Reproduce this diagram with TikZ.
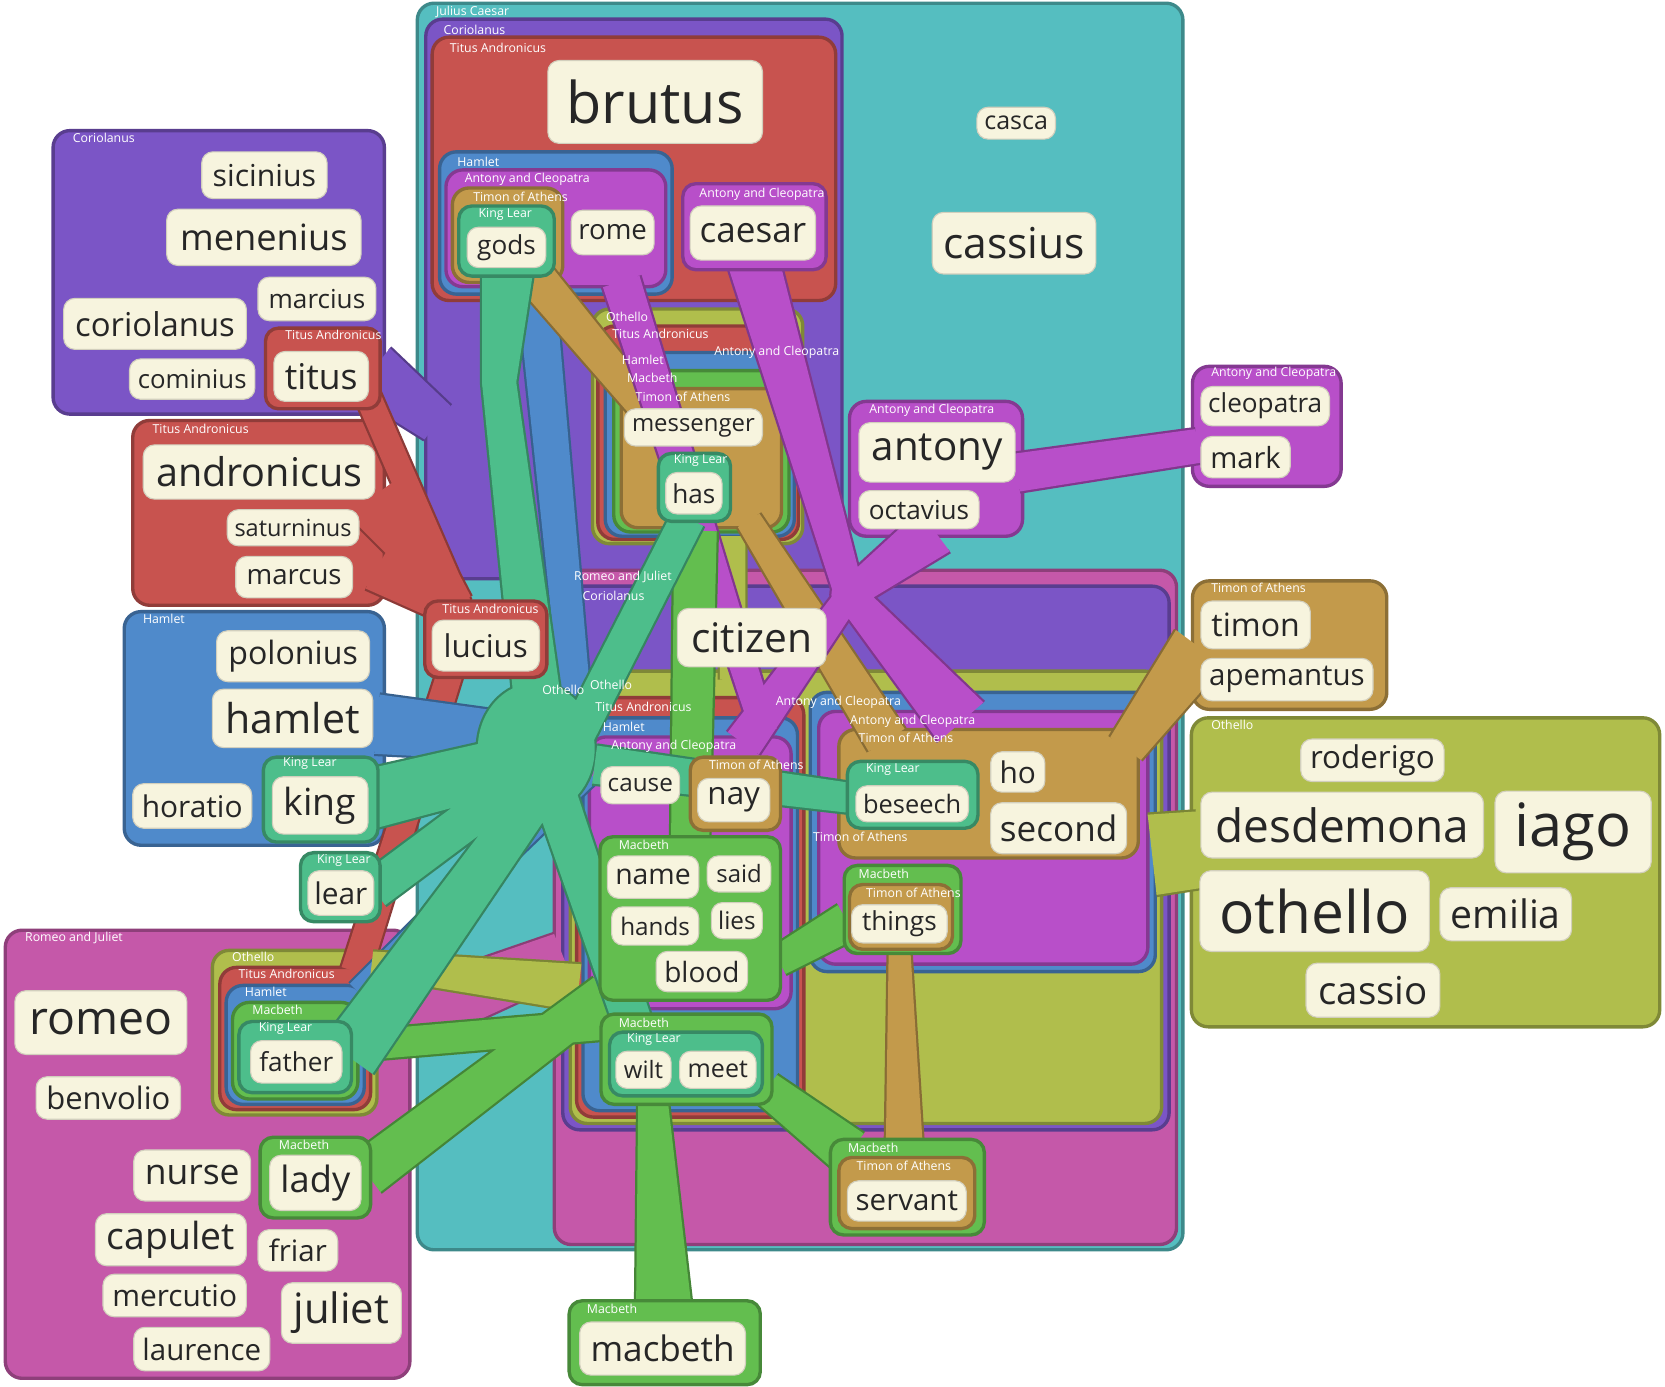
\documentclass[tikz,border=0pt]{standalone}
\usepackage{fontspec}
\setmainfont{Open Sans}
\usetikzlibrary{calc}

\definecolor{jc}{HTML}{55BEC0}
\definecolor{cor}{HTML}{7B55C6}
\definecolor{tit}{HTML}{C8534F}
\definecolor{ham}{HTML}{4F8ACB}
\definecolor{ant}{HTML}{B84FC9}
\definecolor{tim}{HTML}{C39A4B}
\definecolor{lear}{HTML}{4DBE8B}
\definecolor{mac}{HTML}{63BE4F}
\definecolor{oth}{HTML}{B0BE4C}
\definecolor{rj}{HTML}{C558A9}
\definecolor{cream}{HTML}{F7F4DE}
\definecolor{ink}{HTML}{262626}

% tapered band from (A) to (B), half-widths given in 0.1 mm
% full outline (for filling)
\newcommand\rbnF[4]{($(#1)!#2*0.1mm!90:(#3)$) -- ($(#3)!#4*0.1mm!-90:(#1)$) -- ($(#3)!#4*0.1mm!90:(#1)$) -- ($(#1)!#2*0.1mm!-90:(#3)$) -- cycle }
% long sides only (for the dark edge)
\newcommand\rbnS[4]{($(#1)!#2*0.1mm!90:(#3)$) -- ($(#3)!#4*0.1mm!-90:(#1)$) ($(#3)!#4*0.1mm!90:(#1)$) -- ($(#1)!#2*0.1mm!-90:(#3)$) }
\let\rbn\rbnF
% edges first, then fills, so bands of one play merge
\newcommand\ribpass[3]{\let\rbn\rbnS \path[ribline=#1] #2 #3;
  \let\rbn\rbnF \path[ribfill=#1] #2; \path[ribfill=#1] #3;}

\tikzset{
  reg/.style={fill=#1, draw=#1!72!black, line width=0.9pt, rounded corners=4.5pt},
  leaf/.style={fill=#1, draw=#1!72!black, line width=0.9pt, rounded corners=3.5pt},
  wd/.style n args={3}{fill=cream, draw=cream!85!black, line width=0.3pt,
    rounded corners=3pt, text=ink, inner sep=0pt,
    minimum width=#1*0.1mm, minimum height=#2*0.1mm,
    font=\fontsize{#3pt}{#3pt}\selectfont},
  lab/.style={text=white, anchor=west, inner sep=0pt,
    font=\fontsize{3.3pt}{3.3pt}\selectfont},
  ribline/.style={draw=#1!70!black, line width=1.2pt, line join=round},
  ribfill/.style={fill=#1},
}

% bands of each play
\def\rjR{\rbn{380,960}{30}{530,900}{22}}
\def\corR{\rbn{350,350}{28}{412,398}{20}}
\def\titR{\rbn{345,370}{12}{432,570}{12} \rbn{355,465}{34}{432,570}{14}
  \rbn{355,535}{22}{432,578}{14} \rbn{335,915}{14}{425,630}{12}
  \rbn{505,625}{10}{560,680}{14}}
\def\hamR{\rbn{355,682}{28}{545,700}{20} \rbn{505,272}{18}{545,690}{14}
  \rbn{338,935}{12}{552,725}{15}}
\def\othR{\rbn{1085,805}{38}{1130,800}{36} \rbn{350,908}{12}{545,930}{22}
  \rbn{690,505}{12}{690,640}{12}}
\def\timR{\rbn{505,262}{18}{622,402}{14} \rbn{705,490}{12}{835,697}{20}
  \rbn{1130,610}{28}{1060,705}{18} \rbn{847,890}{10}{852,1095}{18}}
\def\antR{\rbn{710,248}{24}{800,560}{14} \rbn{880,500}{24}{800,560}{14}
  \rbn{800,560}{14}{905,680}{28} \rbn{800,560}{12}{700,700}{18}
  \rbn{585,265}{18}{720,690}{12} \rbn{958,445}{18}{1128,420}{16}}
\def\antH{(800,560) circle [radius=0.17cm]}
\def\macR{\rbn{345,1105}{22}{570,935}{18} \rbn{625,1230}{26}{615,1038}{14}
  \rbn{800,1085}{22}{722,1025}{16} \rbn{798,868}{18}{733,905}{14}
  \rbn{655,500}{20}{650,790}{18} \rbn{335,985}{14}{570,965}{14}}
\def\learR{\rbn{478,255}{24}{470,360}{16} \rbn{470,360}{16}{505,650}{22}
  \rbn{648,488}{16}{545,690}{16} \rbn{350,752}{28}{500,715}{25}
  \rbn{352,838}{18}{490,735}{18} \rbn{328,995}{28}{500,755}{20}
  \rbn{805,752}{14}{560,720}{18} \rbn{600,975}{18}{520,740}{20}}
\def\learH{(470,360) circle [radius=0.16cm]
  (505,705) ellipse [x radius=0.55cm, y radius=0.62cm]}

\begin{document}
\begin{tikzpicture}[x=0.01cm, y=-0.01cm]
\fill[white] (0,0) rectangle (1568,1306);
\useasboundingbox (0,0) rectangle (1568,1306);

% ---- containing regions
\draw[reg=jc] (393,3) rectangle (1114,1177);
\draw[reg=cor] (401,18) rectangle (793,545);
\draw[reg=tit] (407,35) rectangle (787,283);
\draw[reg=ham] (414,143) rectangle (633,277);
\draw[reg=ant] (420,160) rectangle (627,270);
\draw[reg=tim] (426,177) rectangle (530,266);
\draw[reg=oth] (558,291) rectangle (756,512);
\draw[reg=tit] (563,307) rectangle (752,508);
\draw[reg=ham] (570,332) rectangle (748,505);
\draw[reg=mac] (578,349) rectangle (743,501);
\draw[reg=tim] (585,366) rectangle (736,497);
\draw[reg=rj] (522,537) rectangle (1108,1172);
\draw[reg=cor] (530,552) rectangle (1101,1064);
\draw[reg=oth] (537,632) rectangle (1094,1058);
\draw[reg=tit] (543,657) rectangle (757,1052);
\draw[reg=ham] (549,676) rectangle (751,1046);
\draw[reg=ant] (555,694) rectangle (745,950);
\draw[reg=ham] (763,652) rectangle (1088,915);
\draw[reg=ant] (771,670) rectangle (1081,908);
\draw[reg=tim] (790,687) rectangle (1072,808);
\draw[reg=cor] (50,123) rectangle (362,390);
\draw[reg=tit] (125,396) rectangle (362,570);
\draw[reg=ham] (117,576) rectangle (362,796);
\draw[reg=rj] (5,876) rectangle (386,1298);
\draw[reg=oth] (200,895) rectangle (355,1050);
\draw[reg=tit] (207,911) rectangle (349,1045);
\draw[reg=ham] (213,928) rectangle (343,1040);
\draw[reg=mac] (219,944) rectangle (337,1035);
\draw[reg=ant] (800,378) rectangle (963,505);
\draw[reg=ant] (1123,345) rectangle (1263,458);
\draw[reg=tim] (1123,547) rectangle (1306,668);
\draw[reg=oth] (1122,676) rectangle (1563,967);

% ---- bands
\ribpass{rj}{\rjR}{}
\ribpass{cor}{\corR}{}
\ribpass{tit}{\titR}{}
\ribpass{ham}{\hamR}{}
\ribpass{oth}{\othR}{}
\ribpass{tim}{\timR}{}
\ribpass{ant}{\antR}{\antH}
\ribpass{mac}{\macR}{}
\ribpass{lear}{\learR}{\learH}

% ---- innermost groups
\draw[leaf=lear] (432,194) rectangle (522,260);
\draw[leaf=ant] (643,173) rectangle (778,254);
\draw[leaf=lear] (620,427) rectangle (688,491);
\draw[leaf=tit] (250,309) rectangle (358,385);
\draw[leaf=lear] (248,713) rectangle (356,793);
\draw[leaf=lear] (283,803) rectangle (358,868);
\draw[leaf=tit] (400,566) rectangle (515,638);
\draw[leaf=lear] (225,962) rectangle (331,1029);
\draw[leaf=mac] (245,1071) rectangle (349,1147);
\draw[leaf=mac] (536,1225) rectangle (716,1304);
\draw[leaf=mac] (565,788) rectangle (735,942);
\draw[leaf=mac] (566,955) rectangle (727,1040);
\draw[leaf=lear] (574,972) rectangle (718,1032);
\draw[leaf=tim] (650,713) rectangle (735,782);
\draw[leaf=lear] (798,717) rectangle (921,780);
\draw[leaf=mac] (795,815) rectangle (905,898);
\draw[leaf=tim] (800,833) rectangle (897,894);
\draw[leaf=mac] (782,1073) rectangle (927,1163);
\draw[leaf=tim] (790,1090) rectangle (918,1157);

% ---- words
\node[wd={202}{78}{15.4}] (brutus) at (617,96) {brutus};
\node[wd={74}{30}{6.7}] (casca) at (957,116) {casca};
\node[wd={154}{58}{11.4}] (cassius) at (955,229) {cassius};
\node[wd={118}{44}{8.1}] (sicinius) at (249,165) {sicinius};
\node[wd={183}{53}{9.7}] (menenius) at (248.5,223.5) {menenius};
\node[wd={111}{41}{7}] (marcius) at (298.5,281.5) {marcius};
\node[wd={172}{48}{8.8}] (coriolanus) at (146,305) {coriolanus};
\node[wd={118}{38}{6.9}] (cominius) at (181,357) {cominius};
\node[wd={89}{47}{9.5}] (titus) at (302.5,354.5) {titus};
\node[wd={218}{51}{10.6}] (andronicus) at (244,444.5) {andronicus};
\node[wd={124}{34}{6.3}] (saturninus) at (276,497) {saturninus};
\node[wd={110}{39}{7.4}] (marcus) at (277,543.5) {marcus};
\node[wd={144}{48}{8.6}] (polonius) at (276,618) {polonius};
\node[wd={151}{55}{11}] (hamlet) at (275.5,676.5) {hamlet};
\node[wd={112}{42}{8}] (horatio) at (181,759) {horatio};
\node[wd={90}{54}{10}] (king) at (301.5,758.5) {king};
\node[wd={62}{42}{8}] (lear) at (321,841) {lear};
\node[wd={101}{48}{8.4}] (lucius) at (457.5,608) {lucius};
\node[wd={74}{38}{7}] (gods) at (477,233) {gods};
\node[wd={78}{42}{7.4}] (rome) at (577,219) {rome};
\node[wd={118}{51}{9.4}] (caesar) at (709,219.5) {caesar};
\node[wd={130}{35}{6.4}] (messenger) at (653,402.5) {messenger};
\node[wd={53}{39}{7}] (has) at (653.5,464.5) {has};
\node[wd={140}{55}{10.9}] (citizen) at (708,600.5) {citizen};
\node[wd={147}{56}{10.8}] (antony) at (882.5,426) {antony};
\node[wd={113}{36}{7}] (octavius) at (865.5,480) {octavius};
\node[wd={121}{37}{7}] (cleopatra) at (1191.5,382.5) {cleopatra};
\node[wd={84}{39}{7.8}] (mark) at (1173,430.5) {mark};
\node[wd={103}{45}{8.6}] (timon) at (1182.5,588.5) {timon};
\node[wd={162}{40}{7.9}] (apemantus) at (1212,640) {apemantus};
\node[wd={135}{40}{8.4}] (roderigo) at (1292.5,716) {roderigo};
\node[wd={266}{62}{12.3}] (desdemona) at (1264,777) {desdemona};
\node[wd={147}{77}{16}] (iago) at (1481.5,783.5) {iago};
\node[wd={216}{76}{15.7}] (othello) at (1238,858) {othello};
\node[wd={124}{50}{10.5}] (emilia) at (1418,861) {emilia};
\node[wd={126}{51}{10.3}] (cassio) at (1293,932.5) {cassio};
\node[wd={51}{38}{8}] (ho) at (958.5,727) {ho};
\node[wd={128}{48}{9.4}] (second) at (997,780) {second};
\node[wd={106}{34}{6.8}] (beseech) at (859,757) {beseech};
\node[wd={74}{35}{6.5}] (cause) at (603,739.5) {cause};
\node[wd={68}{41}{8.4}] (nay) at (691,753.5) {nay};
\node[wd={86}{40}{7.6}] (name) at (615,826) {name};
\node[wd={60}{34}{6.4}] (said) at (696,823) {said};
\node[wd={82}{36}{6.5}] (hands) at (617,872) {hands};
\node[wd={48}{34}{6.5}] (lies) at (694,867) {lies};
\node[wd={86}{38}{7.5}] (blood) at (661,915) {blood};
\node[wd={90}{36}{7}] (things) at (847,870) {things};
\node[wd={52}{35}{6.4}] (wilt) at (606,1007.5) {wilt};
\node[wd={72}{35}{6.7}] (meet) at (676,1007.5) {meet};
\node[wd={112}{38}{7.9}] (servant) at (854,1131) {servant};
\node[wd={156}{50}{9.4}] (macbeth) at (624,1270) {macbeth};
\node[wd={162}{60}{12.4}] (romeo) at (95,963) {romeo};
\node[wd={136}{40}{8.3}] (benvolio) at (102,1034) {benvolio};
\node[wd={110}{48}{9.5}] (nurse) at (181,1107) {nurse};
\node[wd={86}{52}{9.7}] (lady) at (297,1114) {lady};
\node[wd={142}{49}{10}] (capulet) at (161,1167.5) {capulet};
\node[wd={75}{39}{7.9}] (friar) at (280.5,1177.5) {friar};
\node[wd={135}{40}{8}] (mercutio) at (164.5,1220) {mercutio};
\node[wd={113}{57}{11.2}] (juliet) at (321.5,1236.5) {juliet};
\node[wd={128}{41}{7.9}] (laurence) at (190,1270.5) {laurence};
\node[wd={86}{40}{7}] (father) at (279,1000) {father};

% ---- play labels
\node[lab] (l1) at (410,11) {Julius Caesar};
\node[lab] (l2) at (417,28) {Coriolanus};
\node[lab] (l3) at (423,45) {Titus Andronicus};
\node[lab] (l4) at (430,152) {Hamlet};
\node[lab] (l5) at (437,169) {Antony and Cleopatra};
\node[lab] (l6) at (445,185) {Timon of Athens};
\node[lab] (l7) at (450,202) {King Lear};
\node[lab] (l8) at (658,183) {Antony and Cleopatra};
\node[lab] (l9) at (570,298) {Othello};
\node[lab] (l10) at (576,314) {Titus Andronicus};
\node[lab] (l11) at (672,332) {Antony and Cleopatra};
\node[lab] (l12) at (585,339) {Hamlet};
\node[lab] (l13) at (590,356) {Macbeth};
\node[lab] (l14) at (598,374) {Timon of Athens};
\node[lab] (l15) at (634,434) {King Lear};
\node[lab] (l16) at (68,130) {Coriolanus};
\node[lab] (l17) at (268,315) {Titus Andronicus};
\node[lab] (l18) at (143,404) {Titus Andronicus};
\node[lab] (l19) at (134,583) {Hamlet};
\node[lab] (l20) at (266,719) {King Lear};
\node[lab] (l21) at (298,810) {King Lear};
\node[lab] (l22) at (416,573) {Titus Andronicus};
\node[lab] (l23) at (23,883) {Romeo and Juliet};
\node[lab] (l24) at (218,901) {Othello};
\node[lab] (l25) at (224,917) {Titus Andronicus};
\node[lab] (l26) at (230,934) {Hamlet};
\node[lab] (l27) at (237,951) {Macbeth};
\node[lab] (l28) at (243,969) {King Lear};
\node[lab] (l29) at (262,1078) {Macbeth};
\node[lab] (l30) at (552,1233) {Macbeth};
\node[lab] (l31) at (818,386) {Antony and Cleopatra};
\node[lab] (l32) at (1140,352) {Antony and Cleopatra};
\node[lab] (l33) at (1140,554) {Timon of Athens};
\node[lab] (l34) at (1140,683) {Othello};
\node[lab] (l35) at (540,543) {Romeo and Juliet};
\node[lab] (l36) at (548,561) {Coriolanus};
\node[lab] (l37) at (555,645) {Othello};
\node[lab] (l38) at (510,650) {Othello};
\node[lab] (l39) at (560,666) {Titus Andronicus};
\node[lab] (l40) at (567,685) {Hamlet};
\node[lab] (l41) at (575,703) {Antony and Cleopatra};
\node[lab] (l42) at (667,720) {Timon of Athens};
\node[lab] (l43) at (730,661) {Antony and Cleopatra};
\node[lab] (l45) at (800,679) {Antony and Cleopatra};
\node[lab] (l46) at (808,695) {Timon of Athens};
\node[lab] (l47) at (815,725) {King Lear};
\node[lab] (l48) at (765,788) {Timon of Athens};
\node[lab] (l49) at (808,823) {Macbeth};
\node[lab] (l50) at (815,841) {Timon of Athens};
\node[lab] (l51) at (582,796) {Macbeth};
\node[lab] (l52) at (582,963) {Macbeth};
\node[lab] (l53) at (590,979) {King Lear};
\node[lab] (l54) at (798,1081) {Macbeth};
\node[lab] (l55) at (806,1098) {Timon of Athens};
\end{tikzpicture}
\end{document}
